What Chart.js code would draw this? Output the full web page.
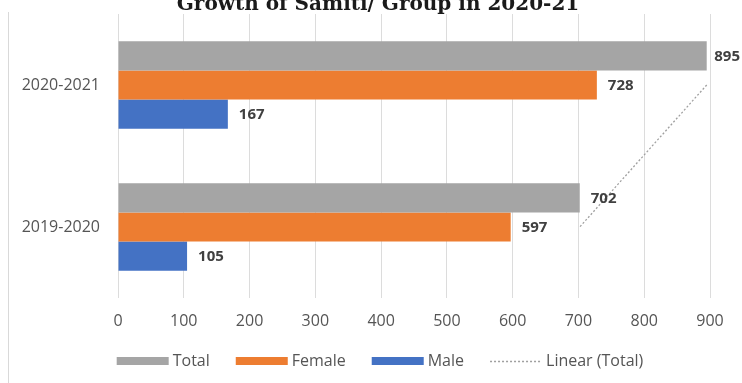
<!DOCTYPE html>
<html>
<head>
<meta charset="utf-8">
<script src="https://cdn.jsdelivr.net/npm/chart.js@4.4.1/dist/chart.umd.min.js"></script>
<style>
  html, body { margin: 0; padding: 0; background: #fff; }
  #wrap { width: 742px; height: 383px; position: relative; }
</style>
</head>
<body>
<div id="wrap"><canvas id="chart"></canvas></div>
<script>
// years, newest on top
var years = ['2020-2021', '2019-2020'];
var totalMembers = [895, 702];
var femaleMembers = [728, 597];
var maleMembers = [167, 105];
var xTicks = [0, 100, 200, 300, 400, 500, 600, 700, 800, 900];

var chartTitle = 'Growth of Samiti/ Group in 2020-21';
var textGray = '#555555';
var labelFont = '"Open Sans", "Liberation Sans", sans-serif';

// title sits half cut off at the top edge
var titlePlugin = {
  id: 'topTitle',
  afterDraw: function (chart) {
    var ctx = chart.ctx;
    ctx.save();
    ctx.font = 'bold 20px "DejaVu Serif", serif';
    ctx.fillStyle = '#1a1a1a';
    ctx.textAlign = 'center';
    ctx.textBaseline = 'alphabetic';
    ctx.fillText(chartTitle, 378, 10, 435);
    // left frame edge
    ctx.strokeStyle = '#d9d9d9';
    ctx.lineWidth = 1;
    ctx.beginPath();
    ctx.moveTo(8.5, 12);
    ctx.lineTo(8.5, 383);
    ctx.stroke();
    ctx.restore();
  }
};

// numbers to the right of each bar
var valueLabels = {
  id: 'valueLabels',
  afterDatasetsDraw: function (chart) {
    var ctx = chart.ctx;
    ctx.save();
    ctx.font = 'bold 15px ' + labelFont;
    ctx.fillStyle = '#404040';
    ctx.textBaseline = 'middle';
    ctx.textAlign = 'left';
    chart.data.datasets.forEach(function (ds, di) {
      if (ds.type === 'line') return;
      var meta = chart.getDatasetMeta(di);
      meta.data.forEach(function (bar, i) {
        var txt = String(ds.data[i]);
        var w = ctx.measureText(txt).width;
        var x = Math.min(bar.x + 11, chart.width - w - 2);
        ctx.fillText(txt, x, bar.y + 1);
      });
    });
    ctx.restore();
  }
};

// legend along the bottom
var bottomLegend = {
  id: 'bottomLegend',
  afterDraw: function (chart) {
    var ctx = chart.ctx;
    var boxW = 52, boxH = 8, gap = 4, spacing = 26, cy = 361;
    ctx.save();
    ctx.font = '16px ' + labelFont;
    ctx.textBaseline = 'middle';
    var items = chart.data.datasets.map(function (ds) {
      return { ds: ds, w: boxW + gap + ctx.measureText(ds.label).width };
    });
    var total = items.reduce(function (s, it) { return s + it.w; }, 0) + spacing * (items.length - 1);
    var x = 380 - total / 2;
    items.forEach(function (it) {
      var ds = it.ds;
      if (ds.type === 'line') {
        ctx.strokeStyle = ds.borderColor;
        ctx.lineWidth = ds.borderWidth;
        ctx.setLineDash(ds.borderDash);
        ctx.beginPath();
        ctx.moveTo(x, cy + 0.5);
        ctx.lineTo(x + boxW, cy + 0.5);
        ctx.stroke();
        ctx.setLineDash([]);
      } else {
        ctx.fillStyle = ds.backgroundColor;
        ctx.fillRect(x, cy - boxH / 2, boxW, boxH);
      }
      ctx.fillStyle = textGray;
      ctx.fillText(ds.label, x + boxW + gap, cy);
      x += it.w + spacing;
    });
    ctx.restore();
  }
};

new Chart(document.getElementById('chart'), {
  type: 'bar',
  data: {
    labels: years,
    datasets: [
      { label: 'Total', data: totalMembers, backgroundColor: '#a5a5a5' },
      { label: 'Female', data: femaleMembers, backgroundColor: '#ed7d31' },
      { label: 'Male', data: maleMembers, backgroundColor: '#4472c4' },
      {
        type: 'line', label: 'Linear (Total)', data: totalMembers, indexAxis: 'y',
        borderColor: '#a0a0a0', borderWidth: 1.3, borderDash: [2, 2],
        pointRadius: 0, fill: false, tension: 0
      }
    ]
  },
  options: {
    indexAxis: 'y',
    responsive: true,
    maintainAspectRatio: false,
    animation: false,
    layout: { padding: { top: 14, right: 32, bottom: 0, left: 0 } },
    datasets: { bar: { categoryPercentage: 0.615, barPercentage: 1 } },
    plugins: {
      legend: { display: false },
      title: { display: false },
      tooltip: { enabled: false }
    },
    scales: {
      x: {
        min: 0,
        max: 900,
        afterBuildTicks: function (s) { s.ticks = xTicks.map(function (v) { return { value: v }; }); },
        afterFit: function (s) { s.height = 85; },
        grid: { color: '#dcdcdc', lineWidth: 1, drawTicks: false },
        border: { display: false },
        ticks: { color: textGray, font: { family: labelFont, size: 16 }, padding: 14 }
      },
      y: {
        afterFit: function (s) {
          s.width = 118;
          // no extra room above/below the category bands
          s.paddingTop = 0;
          s.paddingBottom = 0;
        },
        grid: { display: false, drawTicks: false },
        border: { display: false },
        ticks: { color: textGray, font: { family: labelFont, size: 16 }, padding: 18 }
      }
    }
  },
  plugins: [titlePlugin, valueLabels, bottomLegend]
});
</script>
</body>
</html>
